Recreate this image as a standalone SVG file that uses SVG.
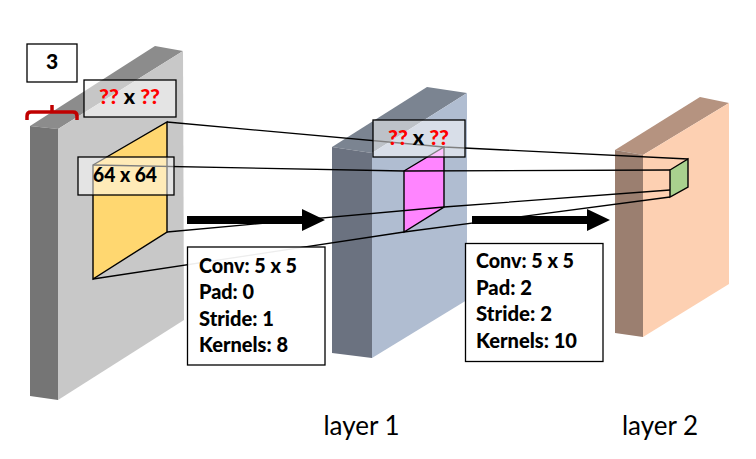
<svg xmlns="http://www.w3.org/2000/svg" width="756" height="459" viewBox="0 0 756 459">
<style>
.shape{stroke:#000;stroke-width:1.4;stroke-linejoin:miter}
.conn{fill:none;stroke:#000;stroke-width:1.3}
.box{stroke:#000;stroke-width:1.3}
.glass{fill:#fff;fill-opacity:.5}
.solid{fill:#fff;fill-opacity:.93}
text{font-family:Lato,"Liberation Sans",sans-serif}
.b{font-weight:900;font-size:20px;fill:#000}
.q{font-weight:900;font-size:21px;fill:#000}
.m{font-weight:900;font-size:21.5px;fill:#000}
.r{fill:#ff0000}
.l{font-size:26px;fill:#000;text-anchor:middle}
</style>
<rect width="756" height="459" fill="#fff"/>
<g id="block-input">
<polygon points="30,126 155,46 183,51 58,129" fill="#8c8c8c"/>
<polygon points="30,126 58,129 58,400 30,396" fill="#757575"/>
<polygon points="58,129 183,51 184,320 58,400" fill="#c8c8c8"/>
</g>
<g id="block-layer1">
<polygon points="332,147 427,87 467,93 372,153" fill="#7b8491"/>
<polygon points="332,147 372,153 372,358 332,353" fill="#6b7280"/>
<polygon points="372,153 467,93 467,300 372,358" fill="#b0bdd1"/>
</g>
<g id="block-layer2">
<polygon points="615,150 700,97 729,103 643,155" fill="#b59380"/>
<polygon points="615,150 643,155 643,337 615,333" fill="#9b7f70"/>
<polygon points="643,155 729,103 729,284 643,337" fill="#fdd0b2"/>
</g>
<g id="patch-yellow"><polygon class="shape" points="93,165 167,122 167,232 93,279" fill="#ffd770"/></g>
<g id="patch-pink"><polygon class="shape" points="404,171 444,147 444,207 404,232" fill="#ff85ff"/></g>
<g id="patch-green"><polygon class="shape" points="670,170 688,159 688,187 670,197" fill="#a9d18e"/></g>
<g id="connectors">
<polyline class="conn" points="167,122 444,147 688,159"/>
<polyline class="conn" points="93,165 404,171 670,170"/>
<polyline class="conn" points="167,232 444,207 670,190"/>
<polyline class="conn" points="93,279 404,232 670,197"/>
<polygon points="187,216 302,216 302,209 325,220 302,231 302,224 187,224" fill="#000"/>
<polygon points="472,216 587,216 587,209 610,220 587,231 587,224 472,224" fill="#000"/>
</g>
<g id="brace"><path d="M27 120 L27 116 Q27 112 31 112 L73 112 Q77 112 77 116 L77 120 M52 112 L52 105" fill="none" stroke="#c00000" stroke-width="3.500"/></g>
<g id="label-3"><rect class="box" x="27" y="44" width="50" height="38" fill="#fff"/><text class="q" x="52" y="69" text-anchor="middle">3</text></g>
<g id="label-input-size"><rect class="box glass" x="84" y="80" width="92" height="37"/><text class="m" x="99" y="104" textLength="61" lengthAdjust="spacingAndGlyphs"><tspan class="r">??</tspan> x <tspan class="r">??</tspan></text></g>
<g id="label-64"><rect class="box glass" x="78" y="157" width="96" height="38"/><text class="m" x="93" y="182" textLength="64" lengthAdjust="spacingAndGlyphs">64 x 64</text></g>
<g id="label-layer1-size"><rect class="box glass" x="373" y="120" width="92" height="37"/><text class="m" x="388" y="145" textLength="61" lengthAdjust="spacingAndGlyphs"><tspan class="r">??</tspan> x <tspan class="r">??</tspan></text></g>
<g id="params-1"><rect class="box solid" x="187.500" y="247" width="137.500" height="118"/>
<text class="b" x="199" y="273" textLength="98" lengthAdjust="spacingAndGlyphs">Conv: 5 x 5</text><text class="b" x="199" y="299" textLength="55" lengthAdjust="spacingAndGlyphs">Pad: 0</text><text class="b" x="199" y="326" textLength="75" lengthAdjust="spacingAndGlyphs">Stride: 1</text><text class="b" x="199" y="352" textLength="89" lengthAdjust="spacingAndGlyphs">Kernels: 8</text></g>
<g id="params-2"><rect class="box solid" x="465.500" y="243.500" width="137.500" height="118"/>
<text class="b" x="476" y="268" textLength="98" lengthAdjust="spacingAndGlyphs">Conv: 5 x 5</text><text class="b" x="476" y="295" textLength="56" lengthAdjust="spacingAndGlyphs">Pad: 2</text><text class="b" x="476" y="321" textLength="76" lengthAdjust="spacingAndGlyphs">Stride: 2</text><text class="b" x="476" y="348" textLength="101" lengthAdjust="spacingAndGlyphs">Kernels: 10</text></g>
<g id="caption-1"><text class="l" x="361.500" y="435">layer 1</text></g>
<g id="caption-2"><text class="l" x="660" y="435">layer 2</text></g>
</svg>
